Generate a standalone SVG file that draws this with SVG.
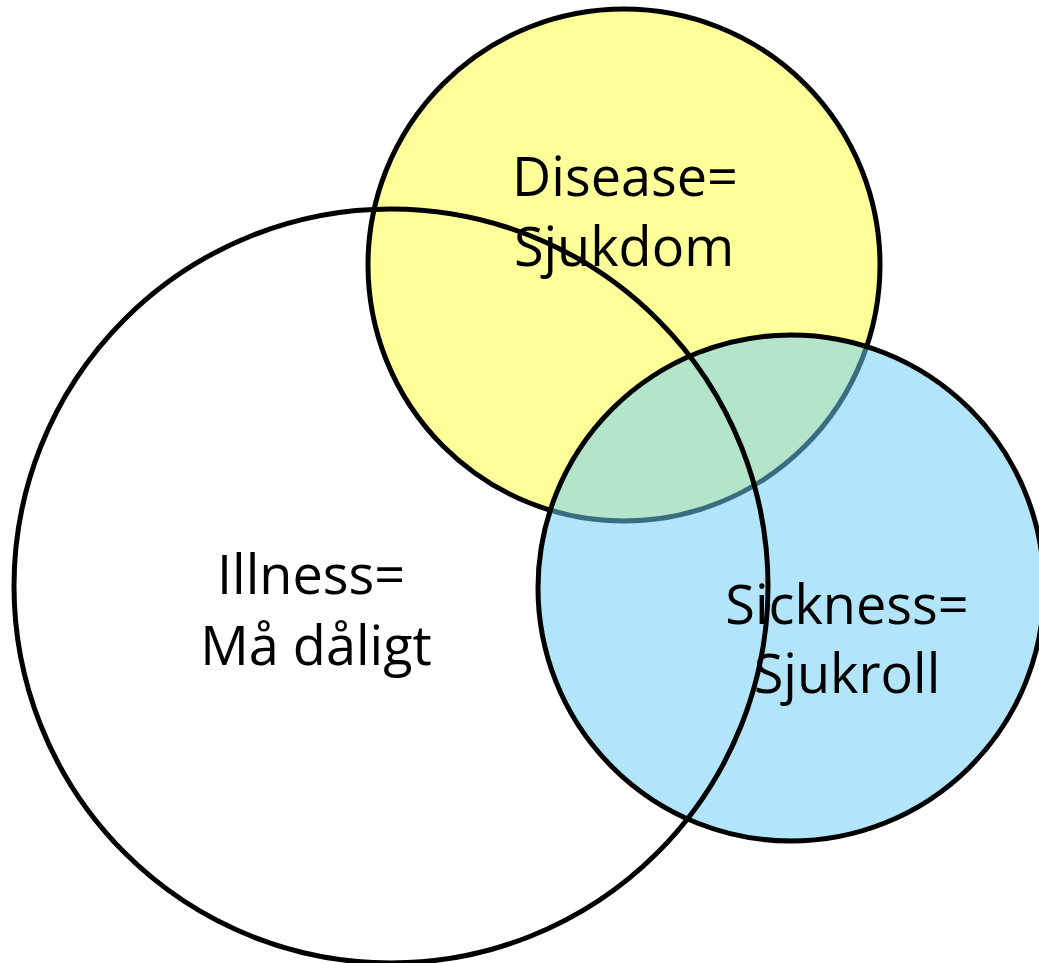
<svg xmlns="http://www.w3.org/2000/svg" width="1039" height="963" viewBox="0 0 1039 963">
  <style>
    .lbl { font-family: "Open Sans", "Liberation Sans", sans-serif; font-size: 54px; fill: #000; text-anchor: middle; }
    .ring { stroke: #000; stroke-width: 5; }
  </style>
  <rect width="1039" height="963" fill="#FFFFFF"/>
  <g id="disease">
    <circle class="ring" cx="624" cy="265" r="256" fill="#FFFF99"/>
  </g>
  <g id="sickness">
    <circle cx="791" cy="588" r="253" fill="rgb(111,206,246)" fill-opacity="0.53"/>
    <circle class="ring" cx="791" cy="588" r="253" fill="none"/>
  </g>
  <g id="illness">
    <circle class="ring" cx="391" cy="586" r="377" fill="none"/>
  </g>
  <g id="labels">
    <text class="lbl" x="625" y="196">Disease=</text>
    <text class="lbl" x="624" y="266">Sjukdom</text>
    <text class="lbl" x="311" y="594">Illness=</text>
    <text class="lbl" x="316" y="665">Må dåligt</text>
    <text class="lbl" x="847" y="624">Sickness=</text>
    <text class="lbl" x="847" y="693">Sjukroll</text>
  </g>
</svg>
